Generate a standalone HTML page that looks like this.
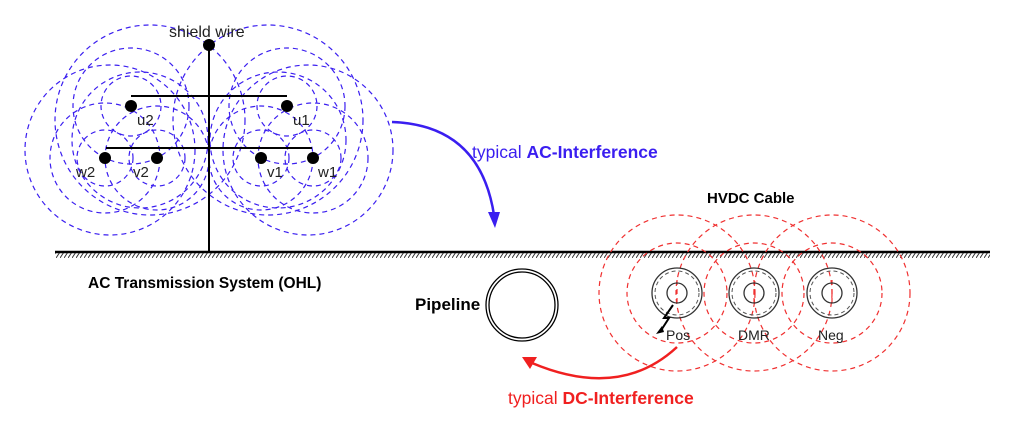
<!DOCTYPE html>
<html><head><meta charset="utf-8"><style>
html,body{margin:0;padding:0;background:#fff;}
svg{display:block;font-family:"Liberation Sans",sans-serif;}
</style></head><body>
<svg width="1027" height="428" viewBox="0 0 1027 428" xmlns="http://www.w3.org/2000/svg">
<defs>
<pattern id="h" width="4" height="6" patternUnits="userSpaceOnUse"><line x1="0" y1="6" x2="4" y2="0" stroke="#333" stroke-width="1"/></pattern>
</defs>
<g fill="none" stroke="#3a1ef0" stroke-width="1.2" stroke-dasharray="5,4">
<circle cx="131" cy="106" r="30"/><circle cx="131" cy="106" r="58"/>
<circle cx="287" cy="106" r="30"/><circle cx="287" cy="106" r="58"/>
<circle cx="105" cy="158" r="28"/><circle cx="105" cy="158" r="55"/><circle cx="110" cy="150" r="85"/>
<circle cx="157" cy="158" r="28"/><circle cx="157" cy="158" r="52"/>
<circle cx="261" cy="158" r="28"/><circle cx="261" cy="158" r="52"/>
<circle cx="313" cy="158" r="28"/><circle cx="313" cy="158" r="55"/><circle cx="308" cy="150" r="85"/>
<circle cx="150" cy="120" r="95"/><circle cx="268" cy="120" r="95"/>
<circle cx="140" cy="140" r="68"/><circle cx="278" cy="140" r="68"/>
</g>
<g stroke="#000" stroke-width="2">
<line x1="209" y1="45" x2="209" y2="252"/>
<line x1="131" y1="96" x2="287" y2="96"/>
<line x1="106" y1="148" x2="312" y2="148"/>
</g>
<g fill="#000">
<circle cx="209" cy="45" r="6"/>
<circle cx="131" cy="106" r="6"/><circle cx="287" cy="106" r="6"/>
<circle cx="105" cy="158" r="6"/><circle cx="157" cy="158" r="6"/>
<circle cx="261" cy="158" r="6"/><circle cx="313" cy="158" r="6"/>
</g>
<g font-size="15" fill="#222">
<text x="169" y="37" font-size="16">shield wire</text>
<text x="137" y="125">u2</text><text x="293" y="125">u1</text>
<text x="76" y="177">w2</text><text x="133" y="177">v2</text>
<text x="267" y="177">v1</text><text x="318" y="177">w1</text>
</g>
<rect x="55" y="253" width="935" height="5" fill="url(#h)"/>
<line x1="55" y1="252" x2="990" y2="252" stroke="#000" stroke-width="2.5"/>
<text x="88" y="288" font-size="15.5" font-weight="bold">AC Transmission System (OHL)</text>
<path d="M392,122 Q480,125 494,215" fill="none" stroke="#3a1ef0" stroke-width="2.5"/>
<polygon points="488,212 500,212 495,228" fill="#3a1ef0"/>
<text x="472" y="158" font-size="17.5" fill="#3a1ef0">typical <tspan font-weight="bold">AC-Interference</tspan></text>
<circle cx="522" cy="305" r="36" fill="none" stroke="#000" stroke-width="1.3"/>
<circle cx="522" cy="305" r="33" fill="none" stroke="#000" stroke-width="1.3"/>
<text x="415" y="310" font-size="17" font-weight="bold">Pipeline</text>
<text x="707" y="203" font-size="15" font-weight="bold">HVDC Cable</text>
<g fill="none" stroke="#f03030" stroke-width="1.2" stroke-dasharray="5,4">
<circle cx="677" cy="293" r="50"/><circle cx="677" cy="293" r="78"/>
<circle cx="754" cy="293" r="50"/><circle cx="754" cy="293" r="78"/>
<circle cx="832" cy="293" r="50"/><circle cx="832" cy="293" r="78"/>
<line x1="677" y1="280" x2="677" y2="306"/><line x1="754" y1="280" x2="754" y2="306"/><line x1="832" y1="280" x2="832" y2="306"/>
</g>
<g fill="none" stroke="#333" stroke-width="1.3">
<circle cx="677" cy="293" r="25"/><circle cx="677" cy="293" r="10"/>
<circle cx="754" cy="293" r="25"/><circle cx="754" cy="293" r="10"/>
<circle cx="832" cy="293" r="25"/><circle cx="832" cy="293" r="10"/>
</g>
<g fill="none" stroke="#555" stroke-width="1" stroke-dasharray="4,3">
<circle cx="677" cy="293" r="22"/><circle cx="754" cy="293" r="22"/><circle cx="832" cy="293" r="22"/>
</g>
<path d="M673,305 L664,318 L669,318 L660,332" fill="none" stroke="#000" stroke-width="2"/>
<polygon points="656,334 662,326 664,332" fill="#000"/>
<g font-size="14" fill="#222">
<text x="666" y="340">Pos</text><text x="738" y="340">DMR</text><text x="818" y="340">Neg</text>
</g>
<path d="M677,347 Q620,400 532,363" fill="none" stroke="#f02020" stroke-width="2.5"/>
<polygon points="522,357 537,357 530,369" fill="#f02020"/>
<text x="508" y="404" font-size="17.5" fill="#f02020">typical <tspan font-weight="bold">DC-Interference</tspan></text>
</svg>
</body></html>
